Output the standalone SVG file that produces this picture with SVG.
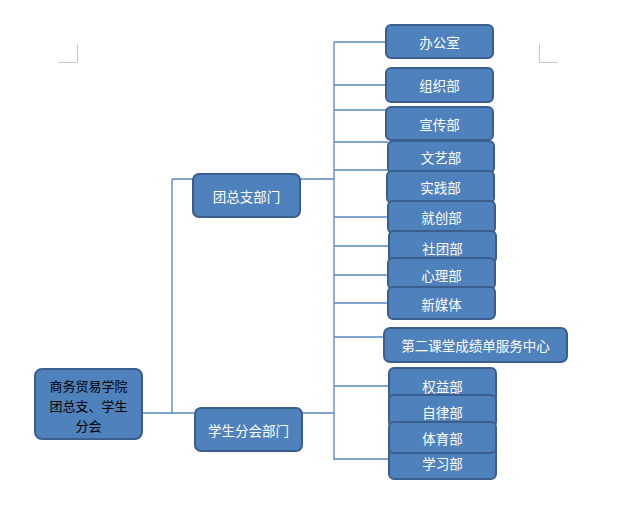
<svg xmlns="http://www.w3.org/2000/svg" width="639" height="514" viewBox="0 0 639 514">
<style>
.box{fill:#4F81BD;stroke:#3A5F8E;stroke-width:2}
.t{font-family:"Noto Sans CJK SC","Liberation Sans",sans-serif;font-size:13.5px;fill:#ffffff;text-anchor:middle;dominant-baseline:central}
.tb{fill:#000000;font-size:13px}
.c{stroke:#5A86C5;stroke-width:1.3;fill:none}
.mark{stroke:#C8C8C8;stroke-width:1;fill:none}
</style>
<rect width="639" height="514" fill="#ffffff"/>
<g id="marks">
<path class="mark" d="M77.5 44 V62.5 H58"/>
<path class="mark" d="M539.5 44 V62.5 H558"/>
</g>
<g id="connectors">
<path class="c" d="M143 413 H172 M172 179 V413 M172 179 H193 M172 413 H194"/>
<path class="c" d="M300 179 H334 M302 413 H334 M334 42 V460"/>
<path class="c" d="M334 42 H386 M334 85 H386 M334 110 H386 M334 142 H388 M334 170 H388 M334 217 H388 M334 246 H389 M334 275 H388 M334 303 H388 M334 337 H383 M334 386 H388 M334 459 H388"/>
</g>
<g id="root"><rect class="box" x="35" y="369" width="107" height="70" rx="7"/>
<text class="t tb" x="88.5" y="385">商务贸易学院</text>
<text class="t tb" x="88.5" y="405">团总支、学生</text>
<text class="t tb" x="88.5" y="425">分会</text></g>
<g id="tzz"><rect class="box" x="193" y="174" width="107" height="43" rx="6"/><text class="t" x="246.5" y="196">团总支部门</text></g>
<g id="xsfh"><rect class="box" x="195" y="408" width="107" height="43" rx="6"/><text class="t" x="248.5" y="430">学生分会部门</text></g>
<g id="n1"><rect class="box" x="386" y="25" width="107" height="33" rx="5"/><text class="t" x="439.5" y="42">办公室</text></g>
<g id="n2"><rect class="box" x="386" y="68" width="107" height="34" rx="5"/><text class="t" x="439.5" y="85">组织部</text></g>
<g id="n3"><rect class="box" x="386" y="107" width="107" height="33" rx="5"/><text class="t" x="439.5" y="124">宣传部</text></g>
<g id="n4"><rect class="box" x="388" y="141" width="106" height="32" rx="5"/><text class="t" x="441" y="157">文艺部</text></g>
<g id="n5"><rect class="box" x="387" y="171" width="107" height="32" rx="5"/><text class="t" x="440.5" y="187">实践部</text></g>
<g id="n6"><rect class="box" x="388" y="201" width="107" height="32" rx="5"/><text class="t" x="441.5" y="217">就创部</text></g>
<g id="n7"><rect class="box" x="389" y="231" width="107" height="32" rx="5"/><text class="t" x="442.5" y="248">社团部</text></g>
<g id="n8"><rect class="box" x="388" y="258" width="107" height="31" rx="5"/><text class="t" x="441.5" y="275">心理部</text></g>
<g id="n9"><rect class="box" x="388" y="287" width="107" height="32" rx="5"/><text class="t" x="441.5" y="304">新媒体</text></g>
<g id="n10"><rect class="box" x="384" y="328" width="183" height="34" rx="6"/><text class="t" x="475.5" y="345">第二课堂成绩单服务中心</text></g>
<g id="n14"><rect class="box" x="389" y="445" width="107" height="34" rx="5"/><text class="t" x="442.5" y="463">学习部</text></g>
<g id="n11"><rect class="box" x="389" y="368" width="107" height="34" rx="5"/><text class="t" x="442.5" y="386">权益部</text></g>
<g id="n12"><rect class="box" x="389" y="395" width="107" height="32" rx="5"/><text class="t" x="442.5" y="412">自律部</text></g>
<g id="n13"><rect class="box" x="389" y="422" width="107" height="31" rx="5"/><text class="t" x="442.5" y="438">体育部</text></g>
</svg>
